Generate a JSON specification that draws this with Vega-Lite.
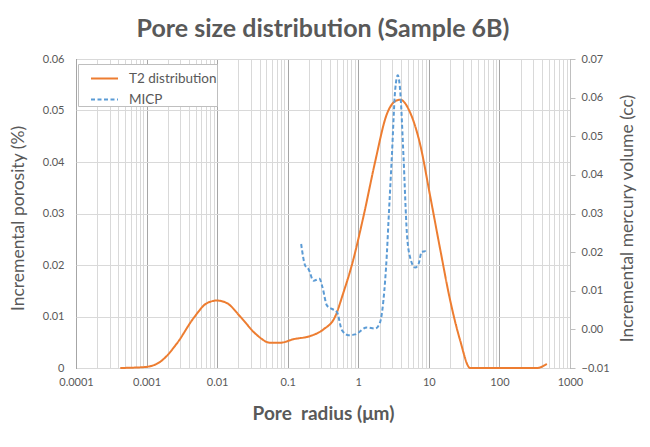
{
  "$schema": "https://vega.github.io/schema/vega-lite/v6.json",
  "width": 494,
  "height": 309,
  "autosize": {"type": "none"},
  "padding": {"left": 76, "top": 59, "right": 80, "bottom": 79},
  "background": "white",
  "title": {"text": "Pore size distribution (Sample 6B)", "font": "Lato", "fontSize": 25, "fontWeight": "bold", "color": "#595959", "anchor": "middle", "offset": 11},
  "config": {"view": {"stroke": "#000000", "strokeWidth": 1}, "font": "Lato"},
  "datasets": {
    "t2": [
      {"radius": 0.000424, "porosity": 0.0, "series": "T2 distribution"},
      {"radius": 0.00096, "porosity": 0.0002, "series": "T2 distribution"},
      {"radius": 0.00156, "porosity": 0.0012, "series": "T2 distribution"},
      {"radius": 0.0027, "porosity": 0.0048, "series": "T2 distribution"},
      {"radius": 0.00464, "porosity": 0.0097, "series": "T2 distribution"},
      {"radius": 0.00718, "porosity": 0.0126, "series": "T2 distribution"},
      {"radius": 0.00994, "porosity": 0.0131, "series": "T2 distribution"},
      {"radius": 0.01377, "porosity": 0.0126, "series": "T2 distribution"},
      {"radius": 0.0212, "porosity": 0.01, "series": "T2 distribution"},
      {"radius": 0.0366, "porosity": 0.0064, "series": "T2 distribution"},
      {"radius": 0.0565, "porosity": 0.0049, "series": "T2 distribution"},
      {"radius": 0.0783, "porosity": 0.0049, "series": "T2 distribution"},
      {"radius": 0.121, "porosity": 0.0056, "series": "T2 distribution"},
      {"radius": 0.208, "porosity": 0.0062, "series": "T2 distribution"},
      {"radius": 0.321, "porosity": 0.0075, "series": "T2 distribution"},
      {"radius": 0.471, "porosity": 0.01, "series": "T2 distribution"},
      {"radius": 0.611, "porosity": 0.0145, "series": "T2 distribution"},
      {"radius": 0.811, "porosity": 0.02, "series": "T2 distribution"},
      {"radius": 1.21, "porosity": 0.03, "series": "T2 distribution"},
      {"radius": 1.73, "porosity": 0.04, "series": "T2 distribution"},
      {"radius": 2.54, "porosity": 0.0493, "series": "T2 distribution"},
      {"radius": 3.33, "porosity": 0.0518, "series": "T2 distribution"},
      {"radius": 3.93, "porosity": 0.0521, "series": "T2 distribution"},
      {"radius": 5.43, "porosity": 0.0496, "series": "T2 distribution"},
      {"radius": 7.53, "porosity": 0.0434, "series": "T2 distribution"},
      {"radius": 10.4, "porosity": 0.0335, "series": "T2 distribution"},
      {"radius": 14.5, "porosity": 0.023, "series": "T2 distribution"},
      {"radius": 20.0, "porosity": 0.0132, "series": "T2 distribution"},
      {"radius": 27.7, "porosity": 0.0054, "series": "T2 distribution"},
      {"radius": 38.5, "porosity": 0.0, "series": "T2 distribution"},
      {"radius": 102, "porosity": 0.0, "series": "T2 distribution"},
      {"radius": 339, "porosity": 0.0, "series": "T2 distribution"},
      {"radius": 469, "porosity": 0.0008, "series": "T2 distribution"}
    ],
    "micp": [
      {"radius": 0.155, "volume": 0.0221, "series": "MICP"},
      {"radius": 0.177, "volume": 0.0165, "series": "MICP"},
      {"radius": 0.197, "volume": 0.0156, "series": "MICP"},
      {"radius": 0.232, "volume": 0.0126, "series": "MICP"},
      {"radius": 0.282, "volume": 0.0131, "series": "MICP"},
      {"radius": 0.311, "volume": 0.0109, "series": "MICP"},
      {"radius": 0.359, "volume": 0.0062, "series": "MICP"},
      {"radius": 0.423, "volume": 0.0053, "series": "MICP"},
      {"radius": 0.498, "volume": 0.0045, "series": "MICP"},
      {"radius": 0.586, "volume": -0.0002, "series": "MICP"},
      {"radius": 0.726, "volume": -0.0015, "series": "MICP"},
      {"radius": 0.904, "volume": -0.0013, "series": "MICP"},
      {"radius": 1.32, "volume": 0.0005, "series": "MICP"},
      {"radius": 1.74, "volume": 0.0002, "series": "MICP"},
      {"radius": 2.04, "volume": 0.0019, "series": "MICP"},
      {"radius": 2.27, "volume": 0.0075, "series": "MICP"},
      {"radius": 2.54, "volume": 0.0195, "series": "MICP"},
      {"radius": 2.68, "volume": 0.028, "series": "MICP"},
      {"radius": 2.99, "volume": 0.0448, "series": "MICP"},
      {"radius": 3.33, "volume": 0.0619, "series": "MICP"},
      {"radius": 3.63, "volume": 0.0658, "series": "MICP"},
      {"radius": 3.92, "volume": 0.0619, "series": "MICP"},
      {"radius": 4.37, "volume": 0.0448, "series": "MICP"},
      {"radius": 4.88, "volume": 0.025, "series": "MICP"},
      {"radius": 5.43, "volume": 0.0186, "series": "MICP"},
      {"radius": 6.4, "volume": 0.016, "series": "MICP"},
      {"radius": 7.13, "volume": 0.0169, "series": "MICP"},
      {"radius": 7.95, "volume": 0.0201, "series": "MICP"},
      {"radius": 8.87, "volume": 0.0202, "series": "MICP"},
      {"radius": 9.37, "volume": 0.0195, "series": "MICP"}
    ]
  },
  "layer": [
    {
      "data": {"name": "t2"},
      "mark": {"type": "line", "interpolate": "monotone", "strokeWidth": 2},
      "encoding": {
        "x": {
          "field": "radius", "type": "quantitative",
          "scale": {"type": "log", "domain": [0.0001, 1000], "nice": false},
          "axis": {
            "values": [0.0001,0.0002,0.0003,0.0004,0.0005,0.0006,0.0007,0.0008,0.0009,0.001,0.002,0.003,0.004,0.005,0.006,0.007,0.008,0.009,0.01,0.02,0.03,0.04,0.05,0.06,0.07,0.08,0.09,0.1,0.2,0.3,0.4,0.5,0.6,0.7,0.8,0.9,1,2,3,4,5,6,7,8,9,10,20,30,40,50,60,70,80,90,100,200,300,400,500,600,700,800,900,1000],
            "labelExpr": "abs(log(datum.value)/LN10 - round(log(datum.value)/LN10)) < 0.001 ? format(datum.value, '~g') : ''",
            "grid": true,
            "gridColor": {"condition": {"test": "abs(log(datum.value)/LN10 - round(log(datum.value)/LN10)) < 0.001", "value": "#A6A6A6"}, "value": "#D9D9D9"},
            "ticks": false, "tickSize": 0, "domain": false,
            "labelPadding": 8, "labelFontSize": 11, "labelColor": "#595959", "labelFont": "Lato",
            "labelFlush": false, "labelOverlap": false,
            "title": "Pore\u00a0 radius (μm)", "titleFont": "Lato", "titleFontSize": 19, "titleFontWeight": "bold", "titleColor": "#595959",
            "titleX": 247, "titleY": 45, "titleBaseline": "middle", "titleAlign": "center"
          }
        },
        "y": {
          "field": "porosity", "type": "quantitative",
          "scale": {"domain": [0, 0.06], "nice": false, "zero": false},
          "axis": {
            "values": [0, 0.01, 0.02, 0.03, 0.04, 0.05, 0.06],
            "format": "~g",
            "grid": true, "gridColor": "#D9D9D9",
            "ticks": false, "tickSize": 0, "domain": false,
            "labelPadding": 12, "labelFontSize": 11, "labelColor": "#595959", "labelFont": "Lato",
            "labelFlush": false,
            "title": "Incremental porosity (%)", "titleFont": "Lato", "titleFontSize": 17.5, "titleFontWeight": "normal", "titleColor": "#595959",
            "titleAngle": -90, "titleX": -58, "titleY": 159, "titleBaseline": "middle", "titleAlign": "center"
          }
        },
        "color": {
          "field": "series", "type": "nominal",
          "scale": {"domain": ["T2 distribution", "MICP"], "range": ["#ED7D31", "#5B9BD5"]},
          "legend": {
            "title": null, "orient": "none", "legendX": 2, "legendY": 5,
            "fillColor": "white", "strokeColor": "#BFBFBF", "padding": 0,
            "symbolType": "stroke", "symbolSize": 729, "symbolStrokeWidth": 2, "symbolOffset": 12, "labelOffset": 10,
            "labelExpr": "datum.label + '\u00a0\u00a0\u00a0\u00a0'",
            "labelFont": "Lato", "labelFontSize": 13.5, "labelColor": "#595959", "rowPadding": -1
          }
        },
        "strokeDash": {
          "field": "series", "type": "nominal",
          "scale": {"domain": ["T2 distribution", "MICP"], "range": [[1, 0], [4, 2.5]]},
          "legend": {
            "title": null, "orient": "none", "legendX": 2, "legendY": 5,
            "fillColor": "white", "strokeColor": "#BFBFBF", "padding": 0,
            "symbolType": "stroke", "symbolSize": 729, "symbolStrokeWidth": 2, "symbolOffset": 12, "labelOffset": 10,
            "labelExpr": "datum.label + '\u00a0\u00a0\u00a0\u00a0'",
            "labelFont": "Lato", "labelFontSize": 13.5, "labelColor": "#595959", "rowPadding": -1
          }
        }
      }
    },
    {
      "data": {"name": "micp"},
      "mark": {"type": "line", "interpolate": "monotone", "strokeWidth": 2},
      "encoding": {
        "x": {"field": "radius", "type": "quantitative"},
        "y": {
          "field": "volume", "type": "quantitative",
          "scale": {"domain": [-0.01, 0.07], "nice": false, "zero": false},
          "axis": {
            "orient": "right",
            "values": [-0.01, 0, 0.01, 0.02, 0.03, 0.04, 0.05, 0.06, 0.07],
            "format": ".2f",
            "grid": false,
            "ticks": true, "tickSize": 5, "tickColor": "#BFBFBF",
            "domain": true, "domainColor": "#BFBFBF",
            "labelPadding": 6, "labelFontSize": 11, "labelColor": "#595959", "labelFont": "Lato",
            "labelFlush": false,
            "title": "Incremental mercury volume (cc)", "titleFont": "Lato", "titleFontSize": 17.5, "titleFontWeight": "normal", "titleColor": "#595959",
            "titleAngle": -90, "titleX": 57, "titleY": 159, "titleBaseline": "middle", "titleAlign": "center"
          }
        },
        "color": {"field": "series", "type": "nominal"},
        "strokeDash": {"field": "series", "type": "nominal"}
      }
    }
  ],
  "resolve": {"scale": {"y": "independent"}}
}
